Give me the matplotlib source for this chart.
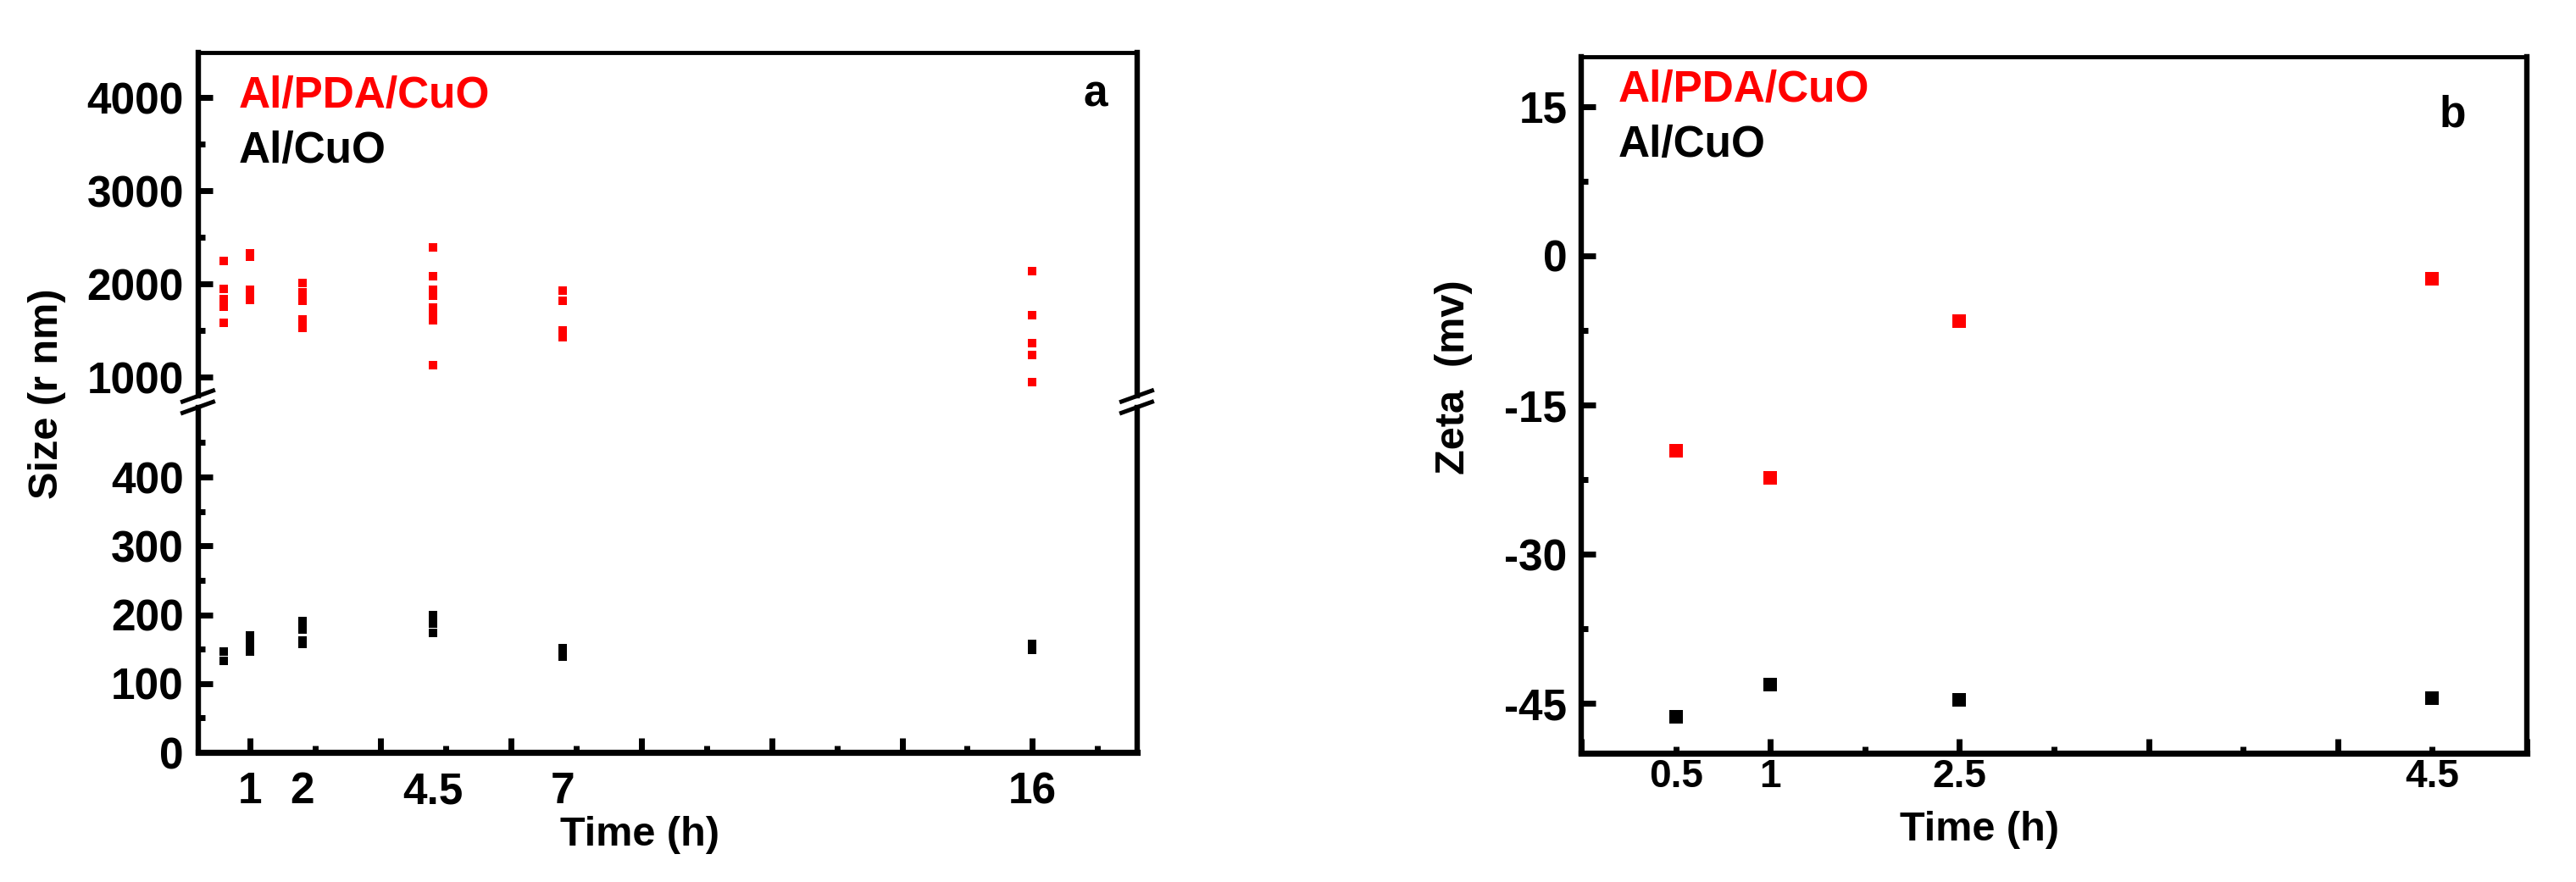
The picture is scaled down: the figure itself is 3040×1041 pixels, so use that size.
import matplotlib
matplotlib.use("Agg")
import matplotlib.pyplot as plt
from matplotlib.ticker import MultipleLocator, FixedLocator
from matplotlib.lines import Line2D

plt.rcParams['font.family'] = ['Liberation Sans', 'DejaVu Sans']
plt.rcParams['font.weight'] = 'bold'
plt.rcParams['axes.unicode_minus'] = False

# ---------------- data (panel a: size) ----------------
size_time = [0.5, 1, 2, 4.5, 7, 16]
pda_size_05 = [2250, 1945, 1835, 1755, 1585]
pda_size_1 = [2325, 2295, 1935, 1880, 1830]
pda_size_2 = [2010, 1905, 1815, 1620, 1530]
pda_size_45 = [2390, 2080, 1940, 1875, 1750, 1700, 1605, 1125]
pda_size_7 = [1930, 1820, 1500, 1430]
pda_size_16 = [2135, 1665, 1365, 1235, 945]
cuo_size_05 = [147, 133]
cuo_size_1 = [170, 158, 146]
cuo_size_2 = [191, 178, 163, 158]
cuo_size_45 = [200, 187, 174]
cuo_size_7 = [152, 139]
cuo_size_16 = [157, 149]
size_tick_labels = ['1', '2', '4.5', '7', '16']
size_tick_label_pos = [1, 2, 4.5, 7, 16]

# ---------------- data (panel b: zeta) ----------------
zeta_x = [0.5, 1, 2, 4.5]
zeta_tick_labels = ['0.5', '1', '2.5', '4.5']
zeta_pda = [-19.6, -22.3, -6.6, -2.3]
zeta_cuo = [-46.3, -43.1, -44.6, -44.5]

pda_groups = [pda_size_05, pda_size_1, pda_size_2, pda_size_45, pda_size_7, pda_size_16]
cuo_groups = [cuo_size_05, cuo_size_1, cuo_size_2, cuo_size_45, cuo_size_7, cuo_size_16]

W, H = 3040, 1041
fig = plt.figure(figsize=(W / 100, H / 100), dpi=100)

def fx(px):
    return px / W

def fy(py):
    return 1 - py / H

def rect(l, t, r, b):
    return [fx(l), fy(b), (r - l) / W, (b - t) / H]

RED = '#ff0000'
FS = 37
LW_V = 4.6
LW_T = 3.5
LW_B = 5.2

def style_ticks(ax):
    ax.tick_params(which='major', direction='in', length=12.5, width=5, labelsize=FS)
    ax.tick_params(which='minor', direction='in', length=6, width=5)
    ax.tick_params(top=False, right=False, which='both')

# ---------- panel a ----------
L, R = 233.5, 1341.5
ax_up = fig.add_axes(rect(L, 61.7, R, 467))
ax_lo = fig.add_axes(rect(L, 481, R, 888))

xs_p, ys_p, xs_c, ys_c = [], [], [], []
for t, g in zip(size_time, pda_groups):
    xs_p += [t] * len(g); ys_p += g
for t, g in zip(size_time, cuo_groups):
    xs_c += [t] * len(g); ys_c += g

for ax in (ax_up, ax_lo):
    ax.plot(xs_p, ys_p, 's', color=RED, ms=7.6, mew=0, ls='none')
    ax.plot(xs_c, ys_c, 's', color='black', ms=7.6, mew=0, ls='none')
    ax.set_xlim(0, 18)
    style_ticks(ax)
    ax.spines['left'].set_linewidth(LW_V)
    ax.spines['right'].set_linewidth(LW_V)

ax_up.set_ylim(800, 4485)
ax_up.yaxis.set_major_locator(FixedLocator([1000, 2000, 3000, 4000]))
ax_up.yaxis.set_minor_locator(FixedLocator([1500, 2500, 3500]))
ax_up.spines['bottom'].set_visible(False)
ax_up.spines['top'].set_linewidth(LW_T)
ax_up.tick_params(axis='x', which='both', bottom=False, labelbottom=False)
ax_up.tick_params(axis='y', pad=12)

ax_lo.set_ylim(0, 501)
ax_lo.yaxis.set_major_locator(FixedLocator([0, 100, 200, 300, 400]))
ax_lo.yaxis.set_minor_locator(FixedLocator([50, 150, 250, 350, 450]))
ax_lo.spines['top'].set_visible(False)
ax_lo.spines['bottom'].set_linewidth(LW_B)
ax_lo.xaxis.set_major_locator(MultipleLocator(2.5, offset=1))
ax_lo.xaxis.set_minor_locator(MultipleLocator(2.5, offset=2.25))
ax_lo.tick_params(axis='x', which='both', labelbottom=False)
ax_lo.tick_params(axis='y', pad=12)

sec = ax_lo.secondary_xaxis('bottom')
sec.set_xticks(size_tick_label_pos, size_tick_labels)
sec.tick_params(length=0, pad=16, labelsize=FS)
for s in sec.spines.values():
    s.set_visible(False)

# break marks on panel a
for xs in (L, R):
    for yc in (467.5, 480.8):
        fig.add_artist(Line2D([fx(xs - 18), fx(xs + 18)], [fy(yc + 6.5), fy(yc - 6.5)],
                              transform=fig.transFigure, color='black', lw=3.6))

fig.text(fx(282), fy(127), 'Al/PDA/CuO', color=RED, fontsize=FS, fontweight='bold', va='baseline', ha='left')
fig.text(fx(282), fy(192), 'Al/CuO', color='black', fontsize=FS, fontweight='bold', va='baseline', ha='left')
fig.text(fx(1278), fy(125), 'a', color='black', fontsize=FS, fontweight='bold', va='baseline', ha='left')
fig.text(fx(755), fy(963), 'Time (h)', fontsize=35, fontweight='bold', va='top', ha='center')
fig.text(fx(55), fy(465), 'Size (r nm)', fontsize=35, fontweight='bold', va='center', ha='center', rotation=90)

# ---------- panel b ----------
axb = fig.add_axes(rect(1866, 67, 2982, 889))
axb.plot(zeta_x, zeta_pda, 's', color=RED, ms=11.2, mew=0, ls='none')
axb.plot(zeta_x, zeta_cuo, 's', color='black', ms=11.2, mew=0, ls='none')
axb.set_xlim(0, 5)
axb.set_ylim(-50, 20)
style_ticks(axb)
axb.yaxis.set_major_locator(MultipleLocator(15))
axb.yaxis.set_minor_locator(MultipleLocator(15, offset=7.5))
axb.xaxis.set_major_locator(MultipleLocator(1))
axb.xaxis.set_minor_locator(MultipleLocator(1, offset=0.5))
axb.tick_params(axis='x', which='both', labelbottom=False)
axb.tick_params(axis='y', pad=12)
axb.spines['left'].set_linewidth(LW_V)
axb.spines['right'].set_linewidth(LW_V)
axb.spines['top'].set_linewidth(LW_T)
axb.spines['bottom'].set_linewidth(LW_B)

secb = axb.secondary_xaxis('bottom')
secb.set_xticks(zeta_x, zeta_tick_labels)
secb.tick_params(length=0, pad=4, labelsize=33)
for s in secb.spines.values():
    s.set_visible(False)

fig.text(fx(1910), fy(120), 'Al/PDA/CuO', color=RED, fontsize=FS, fontweight='bold', va='baseline', ha='left')
fig.text(fx(1910), fy(185), 'Al/CuO', color='black', fontsize=FS, fontweight='bold', va='baseline', ha='left')
fig.text(fx(2879), fy(150), 'b', color='black', fontsize=FS, fontweight='bold', va='baseline', ha='left')
fig.text(fx(2336), fy(957), 'Time (h)', fontsize=35, fontweight='bold', va='top', ha='center')
fig.text(fx(1715), fy(445), 'Zeta  (mv)', fontsize=35, fontweight='bold', va='center', ha='center', rotation=90)

fig.savefig('out.png', dpi=100, facecolor='white')
